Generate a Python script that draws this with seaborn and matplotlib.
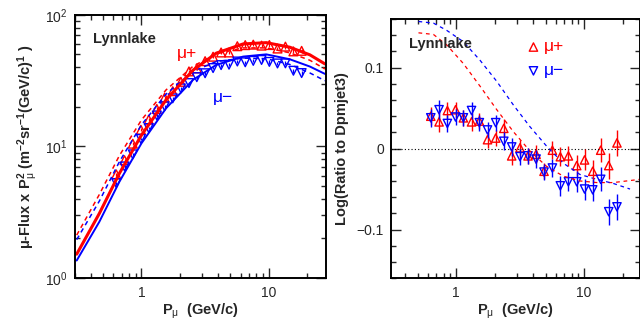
import numpy as np
import pandas as pd
import seaborn as sns
import matplotlib
matplotlib.use("Agg")
import matplotlib.pyplot as plt
from matplotlib.ticker import FuncFormatter, MultipleLocator, NullFormatter, LogLocator

# momentum of the data points (GeV/c)
p_data = [0.634, 0.736, 0.855, 0.99, 1.14, 1.32, 1.52, 1.76, 2.04, 2.36, 2.72, 3.16,
          3.65, 4.22, 4.87, 5.66, 6.53, 7.55, 8.77, 10.1, 11.7, 13.5, 15.6, 18.1]

# flux x p^2
flux_plus = [6.14, 7.87, 10.5, 13.4, 16.0, 19.3, 23.5, 26.3, 31.0, 37.2, 39.2, 44.5,
             48.1, 51.8, 51.8, 57.8, 58.9, 59.4, 58.4, 59.0, 55.5, 57.4, 52.8, 53.3]
flux_minus = [5.27, 7.05, 8.71, 11.4, 13.8, 17.2, 20.2, 23.2, 27.6, 30.3, 33.6, 36.0,
              39.4, 41.5, 41.8, 44.2, 43.6, 44.7, 45.4, 43.9, 42.7, 42.8, 37.6, 36.1]

# log ratio to dpmjet3, right panel
ratio_plus = [0.040, 0.033, 0.047, 0.048, 0.038, 0.033, 0.034, 0.011, 0.013, 0.025, -0.009, 0.001,
              -0.009, -0.007, -0.028, -0.002, -0.010, -0.009, -0.021, -0.014, -0.028, -0.002, -0.021, 0.007]
ratio_minus = [0.038, 0.048, 0.031, 0.039, 0.038, 0.047, 0.032, 0.023, 0.032, 0.009, 0.002, -0.010,
               -0.009, -0.013, -0.029, -0.024, -0.046, -0.041, -0.041, -0.050, -0.051, -0.038, -0.078, -0.072]
err_plus = [0.011, 0.012, 0.011, 0.010, 0.010, 0.011, 0.010, 0.010, 0.010, 0.011, 0.011, 0.010,
            0.010, 0.011, 0.010, 0.011, 0.012, 0.012, 0.013, 0.013, 0.014, 0.015, 0.016, 0.016]
err_minus = [0.011, 0.012, 0.011, 0.010, 0.010, 0.011, 0.010, 0.010, 0.010, 0.011, 0.011, 0.010,
             0.010, 0.011, 0.010, 0.011, 0.012, 0.012, 0.013, 0.013, 0.014, 0.015, 0.016, 0.016]

# model curves, left panel
p_model = [0.31, 0.467, 0.671, 1.0, 1.56, 2.54, 3.87, 6.28, 9.55, 14.6, 21.0, 27.6]
dpm_plus = [1.52, 3.10, 6.25, 12.2, 22.6, 38.0, 51.2, 60.1, 61.5, 56.8, 49.7, 42.4]
dpm_minus = [1.36, 2.68, 5.40, 10.57, 19.5, 32.1, 41.7, 48.2, 50.1, 46.0, 40.5, 35.6]
alt_plus = [2.12, 4.32, 8.53, 15.9, 26.9, 40.7, 50.6, 56.1, 56.1, 51.5, 45.2, 38.8]
alt_minus = [1.96, 3.85, 7.66, 14.6, 25.0, 37.2, 44.2, 46.9, 46.5, 42.0, 36.2, 31.6]

# dashed curves, right panel
p_rplus = [0.508, 0.665, 0.845, 1.14, 1.54, 2.08, 2.8, 3.78, 5.1, 6.88, 9.3, 12.6, 16.9, 27.4]
r_alt_plus = [0.143, 0.141, 0.128, 0.105, 0.077, 0.048, 0.021, -0.003, -0.022, -0.034, -0.040, -0.042, -0.042, -0.038]
p_rminus = [0.508, 0.665, 0.845, 1.14, 1.54, 2.08, 2.8, 3.78, 5.1, 6.88, 9.3, 12.6, 16.9, 22.9]
r_alt_minus = [0.157, 0.155, 0.146, 0.132, 0.109, 0.083, 0.054, 0.027, 0.003, -0.018, -0.032, -0.038, -0.043, -0.050]

sns.set_theme(style="ticks")
plt.rcParams['font.family'] = ['Liberation Sans', 'DejaVu Sans']
plt.rcParams['mathtext.fontset'] = 'custom'
plt.rcParams['mathtext.rm'] = 'Liberation Sans'
plt.rcParams['mathtext.it'] = 'Liberation Sans:italic'
plt.rcParams['mathtext.bf'] = 'Liberation Sans:bold'
plt.rcParams['axes.unicode_minus'] = True

RED = '#ff0000'
BLUE = '#0000ff'

fig = plt.figure(figsize=(6.4, 3.23), dpi=100)
ax1 = fig.add_axes([0.117, 0.139, 0.392, 0.815])
ax2 = fig.add_axes([0.611, 0.139, 0.389, 0.802])

df = pd.DataFrame({"p": p_data, "fp": flux_plus, "fm": flux_minus,
                   "rp": ratio_plus, "rm": ratio_minus, "ep": err_plus, "em": err_minus})
mod = pd.DataFrame({"p": p_model, "dp": dpm_plus, "dm": dpm_minus, "ap": alt_plus, "am": alt_minus})

# ---- left panel
sns.lineplot(data=mod, x="p", y="ap", ax=ax1, color=RED, lw=1.1, linestyle=(0, (3, 2.5)))
sns.lineplot(data=mod, x="p", y="am", ax=ax1, color=BLUE, lw=1.1, linestyle=(0, (3, 2.5)))
sns.lineplot(data=mod, x="p", y="dp", ax=ax1, color=RED, lw=2.2)
sns.lineplot(data=mod, x="p", y="dm", ax=ax1, color=BLUE, lw=1.4)

# error bars converted from log ratio errors
fp = df.fp.values
fm = df.fm.values
ax1.errorbar(df.p, fp, yerr=[fp - fp * 10 ** (-df.ep.values), fp * 10 ** df.ep.values - fp],
             fmt='none', ecolor=RED, elinewidth=0.9)
ax1.errorbar(df.p, fm, yerr=[fm - fm * 10 ** (-df.em.values), fm * 10 ** df.em.values - fm],
             fmt='none', ecolor=BLUE, elinewidth=0.9)
sns.scatterplot(data=df, x="p", y="fp", ax=ax1, marker='^', s=40, facecolor='none',
                edgecolor=RED, linewidth=1.0)
sns.scatterplot(data=df, x="p", y="fm", ax=ax1, marker='v', s=40, facecolor='none',
                edgecolor=BLUE, linewidth=1.0)

ax1.set_xscale('log')
ax1.set_yscale('log')
ax1.set_xlim(0.3, 28)
ax1.set_ylim(1, 100)
ax1.text(0.072, 0.91, "Lynnlake", transform=ax1.transAxes, fontsize=10.5, fontweight='bold',
         va='center', ha='left')
ax1.text(0.405, 0.855, "μ+", transform=ax1.transAxes, fontsize=12.5, color=RED, va='center')
ax1.text(0.55, 0.685, "μ−", transform=ax1.transAxes, fontsize=12.5, color=BLUE, va='center')
ax1.set_xlabel(r"P$_{\mathrm{μ}}$  (GeV/c)", fontsize=10.5, fontweight='bold', labelpad=1)
ax1.set_ylabel(r"μ-Flux x P$_{\mathrm{μ}}^{\mathbf{2}}$ (m$^{\mathbf{-2}}$sr$^{\mathbf{-1}}$(GeV/c)$^{\mathbf{1}}$ )",
               fontsize=10.5, fontweight='bold', labelpad=4)

# ---- right panel
rp = pd.DataFrame({"p": p_rplus, "r": r_alt_plus})
rm = pd.DataFrame({"p": p_rminus, "r": r_alt_minus})
sns.lineplot(data=rp, x="p", y="r", ax=ax2, color=RED, lw=0.9, linestyle=(0, (3, 3)))
sns.lineplot(data=rm, x="p", y="r", ax=ax2, color=BLUE, lw=0.9, linestyle=(0, (3, 3)))
ax2.axhline(0, color='black', lw=0.8, linestyle=(0, (1, 2)))
ax2.errorbar(df.p, df.rp, yerr=df.ep, fmt='none', ecolor=RED, elinewidth=1.0)
ax2.errorbar(df.p, df.rm, yerr=df.em, fmt='none', ecolor=BLUE, elinewidth=1.0)
sns.scatterplot(data=df, x="p", y="rp", ax=ax2, marker='^', s=36, facecolor='none',
                edgecolor=RED, linewidth=1.0)
sns.scatterplot(data=df, x="p", y="rm", ax=ax2, marker='v', s=36, facecolor='none',
                edgecolor=BLUE, linewidth=1.0)

ax2.set_xscale('log')
ax2.set_xlim(0.31, 27.4)
ax2.set_ylim(-0.16, 0.16)
ax2.yaxis.set_major_locator(MultipleLocator(0.1))
ax2.yaxis.set_minor_locator(MultipleLocator(0.02))
ax2.yaxis.set_major_formatter(FuncFormatter(lambda v, _: ("%g" % round(v, 3)).replace('-', '−')))
ax2.text(0.072, 0.905, "Lynnlake", transform=ax2.transAxes, fontsize=10.5, fontweight='bold',
         va='center', ha='left')
ax2.scatter([0.572], [0.892], transform=ax2.transAxes, marker='^', s=36, facecolor='none',
            edgecolor=RED, linewidth=1.0)
ax2.scatter([0.572], [0.80], transform=ax2.transAxes, marker='v', s=36, facecolor='none',
            edgecolor=BLUE, linewidth=1.0)
ax2.text(0.612, 0.895, "μ+", transform=ax2.transAxes, fontsize=12.5, color=RED, va='center')
ax2.text(0.612, 0.803, "μ−", transform=ax2.transAxes, fontsize=12.5, color=BLUE, va='center')
ax2.set_xlabel(r"P$_{\mathrm{μ}}$  (GeV/c)", fontsize=10.5, fontweight='bold', labelpad=1)
ax2.set_ylabel("Log(Ratio to Dpmjet3)", fontsize=10.5, fontweight='bold', labelpad=6)

for ax in (ax1, ax2):
    ax.xaxis.set_major_locator(LogLocator(base=10))
    ax.xaxis.set_minor_locator(LogLocator(base=10, subs=np.arange(2, 10)))
    ax.xaxis.set_major_formatter(FuncFormatter(lambda v, _: "%g" % v))
    ax.xaxis.set_minor_formatter(NullFormatter())
    ax.tick_params(which='both', direction='in', top=True, right=True, labelsize=10, width=1.0)
    ax.tick_params(which='major', length=7)
    ax.tick_params(which='minor', length=3.5)
    ax.tick_params(axis='x', which='major', pad=6)
    ax.tick_params(axis='y', which='major', pad=5)
    for s in ax.spines.values():
        s.set_linewidth(1.4)
        s.set_color('black')

fig.savefig("out.png", dpi=100)
